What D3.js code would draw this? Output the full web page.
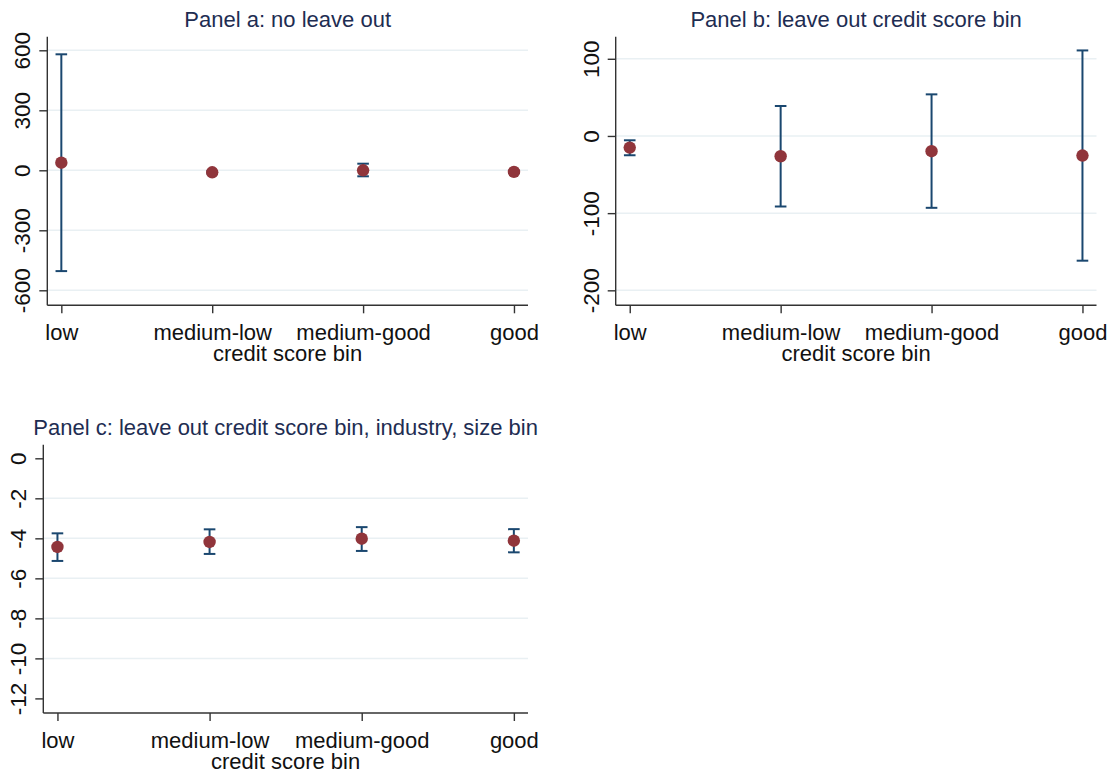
<!DOCTYPE html>
<html>
<head>
<meta charset="utf-8">
<script src="https://cdn.jsdelivr.net/npm/d3@7/dist/d3.min.js"></script>
<style>
  html, body { margin: 0; padding: 0; background: #ffffff; }
  svg { display: block; font-family: "Liberation Sans", Arial, Helvetica, sans-serif; }
</style>
</head>
<body>
<svg id="chart" width="1113" height="774"></svg>
<script>
// Credit score bins shared by all three panels
const categories = ["low", "medium-low", "medium-good", "good"];

// Panel a: no leave out
const estA = [38, -10, 0, -8];
const loA  = [-504, -16, -30, -14];
const hiA  = [580, -4, 33, -2];
const ticksA = [-600, -300, 0, 300, 600];
const gridA  = [-600, -300, 0, 300, 600];

// Panel b: leave out credit score bin
const estB = [-15.1, -26.3, -19.8, -25.4];
const loB  = [-25, -91.4, -93.1, -161.6];
const hiB  = [-5.6, 38.8, 53.9, 110.8];
const ticksB = [-200, -100, 0, 100];
const gridB  = [-200, -100, 0, 100];

// Panel c: leave out credit score bin, industry, size bin
const estC = [-4.43, -4.18, -4.02, -4.12];
const loC  = [-5.13, -4.78, -4.63, -4.70];
const hiC  = [-3.75, -3.55, -3.44, -3.54];
const ticksC = [0, -2, -4, -6, -8, -10, -12];
const gridC  = [-2, -4, -6, -8, -10];

const titles = [
  "Panel a: no leave out",
  "Panel b: leave out credit score bin",
  "Panel c: leave out credit score bin, industry, size bin"
];
const xTitle = "credit score bin";

const COLORS = {
  marker: "#90353b",
  ci: "#1a476f",
  grid: "#e9f0f3",
  axis: "#333333",
  text: "#111111",
  title: "#1e2d52"
};

const svg = d3.select("#chart");
svg.append("rect").attr("width", 1113).attr("height", 774).attr("fill", "#ffffff");

function fmt(v) { return String(v); }

function drawPanel(p) {
  const g = svg.append("g");

  const x = d3.scalePoint()
    .domain(categories)
    .range([p.left, p.right])
    .padding(0.093);

  const y = d3.scaleLinear()
    .domain(p.yDomain)
    .range([p.bottom, p.top]);

  // horizontal grid lines
  g.append("g").selectAll("line")
    .data(p.grid)
    .join("line")
    .attr("x1", p.left)
    .attr("x2", p.right)
    .attr("y1", d => y(d))
    .attr("y2", d => y(d))
    .attr("stroke", COLORS.grid)
    .attr("stroke-width", 1.5);

  // y axis with rotated tick labels
  const yAxis = g.append("g")
    .attr("transform", `translate(${p.left},0)`)
    .call(d3.axisLeft(y).tickValues(p.ticks).tickSize(8).tickSizeOuter(0).tickFormat(fmt));
  yAxis.select(".domain")
    .attr("d", `M0,${p.top}V${p.bottom}`)
    .attr("stroke", COLORS.axis).attr("stroke-width", 1.4);
  yAxis.selectAll(".tick line").attr("stroke", COLORS.axis).attr("stroke-width", 1.4);
  yAxis.selectAll(".tick text")
    .attr("x", null).attr("dy", null)
    .attr("text-anchor", "middle")
    .attr("transform", "translate(-17,0) rotate(-90)")
    .attr("fill", COLORS.text)
    .style("font-size", "22.5px");

  // x axis
  const xAxis = g.append("g")
    .attr("transform", `translate(0,${p.bottom})`)
    .call(d3.axisBottom(x).tickSize(8).tickSizeOuter(0));
  xAxis.select(".domain")
    .attr("d", `M${p.left},0H${p.right}`)
    .attr("stroke", COLORS.axis).attr("stroke-width", 1.4);
  xAxis.selectAll(".tick line").attr("stroke", COLORS.axis).attr("stroke-width", 1.4);
  xAxis.selectAll(".tick text")
    .attr("y", 35).attr("dy", null)
    .attr("fill", COLORS.text)
    .style("font-size", "22px");

  // axis title
  g.append("text")
    .attr("x", (p.left + p.right) / 2)
    .attr("y", p.bottom + 56)
    .attr("text-anchor", "middle")
    .attr("fill", COLORS.text)
    .style("font-size", "22px")
    .text(xTitle);

  // panel title
  g.append("text")
    .attr("x", (p.left + p.right) / 2)
    .attr("y", p.top - 10)
    .attr("text-anchor", "middle")
    .attr("fill", COLORS.title)
    .style("font-size", "22px")
    .text(p.title);

  const rows = categories.map((c, i) => ({ c, est: p.est[i], lo: p.lo[i], hi: p.hi[i] }));
  const cap = 5.8;

  // confidence intervals
  const ci = g.append("g")
    .attr("stroke", COLORS.ci)
    .attr("stroke-width", 2)
    .attr("fill", "none");
  ci.selectAll("line.stem").data(rows).join("line")
    .attr("class", "stem")
    .attr("x1", d => x(d.c)).attr("x2", d => x(d.c))
    .attr("y1", d => y(d.lo)).attr("y2", d => y(d.hi));
  ci.selectAll("line.capHi").data(rows).join("line")
    .attr("class", "capHi")
    .attr("x1", d => x(d.c) - cap).attr("x2", d => x(d.c) + cap)
    .attr("y1", d => y(d.hi)).attr("y2", d => y(d.hi));
  ci.selectAll("line.capLo").data(rows).join("line")
    .attr("class", "capLo")
    .attr("x1", d => x(d.c) - cap).attr("x2", d => x(d.c) + cap)
    .attr("y1", d => y(d.lo)).attr("y2", d => y(d.lo));

  // point estimates
  g.append("g").selectAll("circle").data(rows).join("circle")
    .attr("cx", d => x(d.c))
    .attr("cy", d => y(d.est))
    .attr("r", 6.2)
    .attr("fill", COLORS.marker);
}

drawPanel({
  title: titles[0], est: estA, lo: loA, hi: hiA, ticks: ticksA, grid: gridA,
  yDomain: [-675, 668], left: 47.3, right: 528, top: 36.7, bottom: 305.3
});
drawPanel({
  title: titles[1], est: estB, lo: loB, hi: hiB, ticks: ticksB, grid: gridB,
  yDomain: [-219.4, 128.6], left: 615.7, right: 1096.5, top: 36.7, bottom: 305.3
});
drawPanel({
  title: titles[2], est: estC, lo: loC, hi: hiC, ticks: ticksC, grid: gridC,
  yDomain: [-12.73, 0.68], left: 43.3, right: 528, top: 444.7, bottom: 713
});
</script>
</body>
</html>
